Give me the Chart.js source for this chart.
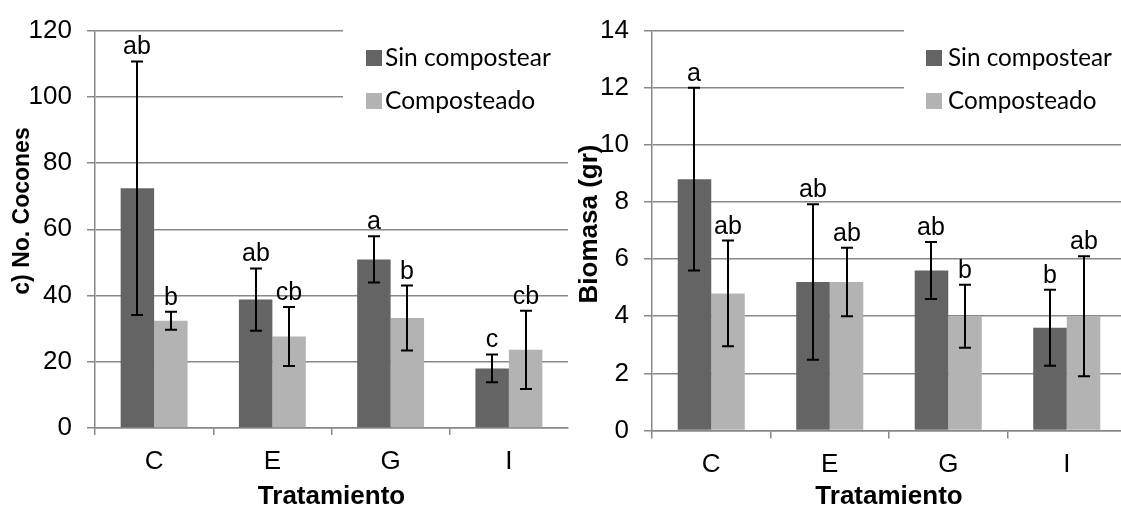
<!DOCTYPE html>
<html><head><meta charset="utf-8">
<script src="https://cdn.jsdelivr.net/npm/chart.js@4.4.1/dist/chart.umd.min.js"></script>
<style>
html,body{margin:0;padding:0;background:#fff;overflow:hidden;width:1121px;height:512px;}
#w1{position:absolute;left:0;top:0;width:575px;height:512px;}
#w2{position:absolute;left:575px;top:0;width:560px;height:512px;}
</style></head><body>
<div id="w1"><canvas id="c1"></canvas></div>
<div id="w2"><canvas id="c2"></canvas></div>
<script>
// ---- data ----
const categories = ['C', 'E', 'G', 'I'];
const seriesNames = ['Sin compostear', 'Composteado'];
const xTitle = 'Tratamiento';

const cocTitle = 'c) No. Cocones';
const cocSin = [72.4, 38.8, 50.9, 18.0];
const cocSinErr = [38.3, 9.4, 7.0, 4.2];
const cocComp = [32.4, 27.6, 33.2, 23.6];
const cocCompErr = [2.7, 8.9, 9.8, 11.8];
const cocSinLetters = ['ab', 'ab', 'a', 'c'];
const cocCompLetters = ['b', 'cb', 'b', 'cb'];
const cocTicks = [0, 20, 40, 60, 80, 100, 120];

const bioTitle = 'Biomasa (gr)';
const bioSin = [8.8, 5.2, 5.6, 3.6];
const bioSinErr = [3.2, 2.72, 1.0, 1.33];
const bioComp = [4.8, 5.2, 4.0, 4.0];
const bioCompErr = [1.85, 1.2, 1.1, 2.1];
const bioSinLetters = ['a', 'ab', 'ab', 'b'];
const bioCompLetters = ['ab', 'ab', 'b', 'ab'];
const bioTicks = [0, 2, 4, 6, 8, 10, 12, 14];

// ---- styles ----
const DARK = '#646464', LIGHT = '#b3b3b3', GRID = '#888888';
const FONT = '"Liberation Sans", Arial, sans-serif';
const LEGFONT = 'Lato, "Open Sans", sans-serif';

const annot = {
  id: 'annot',
  afterDatasetsDraw(chart, args, o) {
    const ctx = chart.ctx, y = chart.scales.y;
    chart.data.datasets.forEach((ds, di) => {
      const meta = chart.getDatasetMeta(di);
      meta.data.forEach((bar, i) => {
        const v = ds.data[i], e = o.errors[di][i];
        const yt = y.getPixelForValue(v + e), yb = y.getPixelForValue(v - e);
        const x = Math.round(bar.x);
        ctx.save();
        ctx.strokeStyle = '#000'; ctx.lineWidth = 2;
        ctx.beginPath();
        ctx.moveTo(x, yt); ctx.lineTo(x, yb);
        ctx.moveTo(x - 6, yt); ctx.lineTo(x + 6, yt);
        ctx.moveTo(x - 6, yb); ctx.lineTo(x + 6, yb);
        ctx.stroke();
        ctx.fillStyle = '#000';
        ctx.font = '25px ' + FONT;
        ctx.textAlign = 'center'; ctx.textBaseline = 'alphabetic';
        ctx.fillText(o.letters[di][i], x, yt - 7);
        ctx.restore();
      });
    });
  },
  afterDraw(chart, args, o) {
    const ctx = chart.ctx;
    const L = o.legend;
    ctx.save();
    ctx.fillStyle = '#fff';
    ctx.fillRect(L.x0, L.y0, L.x1 - L.x0, L.y1 - L.y0);
    ctx.font = '24px ' + LEGFONT;
    const w = ctx.measureText(seriesNames[0]).width;
    const fs = 24 * L.textW / w;
    ctx.font = fs.toFixed(2) + 'px ' + LEGFONT;
    ctx.textBaseline = 'alphabetic'; ctx.textAlign = 'left';
    chart.data.datasets.forEach((ds, di) => {
      const cy = L.rows[di];
      ctx.fillStyle = ds.backgroundColor;
      ctx.fillRect(L.sqX, cy - 8, 16, 16);
      ctx.fillStyle = '#000';
      ctx.fillText(ds.label, L.textX, cy + 8);
    });
    ctx.translate(o.yTitle.x, o.yTitle.y);
    ctx.rotate(-Math.PI / 2);
    ctx.font = 'bold ' + o.yTitle.size + 'px ' + FONT;
    ctx.textAlign = 'center'; ctx.textBaseline = 'middle';
    ctx.fillText(o.yTitle.text, 0, 0);
    ctx.restore();
  }
};

function build(id, c) {
  return new Chart(document.getElementById(id), {
    type: 'bar',
    data: {
      labels: categories,
      datasets: [
        { label: seriesNames[0], data: c.sin, backgroundColor: DARK, borderWidth: 0, categoryPercentage: 0.566, barPercentage: 1 },
        { label: seriesNames[1], data: c.comp, backgroundColor: LIGHT, borderWidth: 0, categoryPercentage: 0.566, barPercentage: 1 }
      ]
    },
    options: {
      responsive: true, maintainAspectRatio: false, animation: false,
      layout: { padding: { top: c.top, right: c.right, left: 0, bottom: 0 } },
      plugins: {
        legend: { display: false }, tooltip: { enabled: false }, title: { display: false },
        annot: { errors: c.errors, letters: c.letters, legend: c.legend, yTitle: c.yTitle }
      },
      scales: {
        x: {
          offset: true,
          grid: { offset: true, drawOnChartArea: false, drawTicks: true, tickLength: c.xTick,
                  color: (ctx) => ctx.type === 'scale' ? 'rgba(0,0,0,0)' : GRID, lineWidth: 1.5 },
          border: { color: GRID, width: 1.5 },
          ticks: { font: { family: FONT, size: 26 }, color: '#000', padding: c.xPad, maxRotation: 0 },
          title: { display: true, text: xTitle, font: { family: FONT, size: 26, weight: 'bold' }, color: '#000', padding: 0 },
          afterFit: (s) => { s.height = c.xH; }
        },
        y: {
          min: 0, max: c.ticks[c.ticks.length - 1],
          afterBuildTicks: (s) => { s.ticks = c.ticks.map(v => ({ value: v })); },
          ticks: { font: { family: FONT, size: 26 }, color: '#000', padding: 15 },
          grid: { color: GRID, lineWidth: 1.5, tickLength: 8 },
          border: { color: GRID, width: 1.5 },
          afterFit: (s) => { s.width = c.yW; }
        }
      }
    },
    plugins: [annot]
  });
}

build('c1', {
  sin: cocSin, comp: cocComp, errors: [cocSinErr, cocCompErr], letters: [cocSinLetters, cocCompLetters],
  ticks: cocTicks, top: 19.5, right: 7, yW: 95, xH: 84, xTick: 7, xPad: 11,
  legend: { x0: 343, x1: 568, y0: 28, y1: 146, sqX: 366, textX: 385, textW: 166, rows: [58, 101] },
  yTitle: { text: cocTitle, x: 22.5, y: 211, size: 23 }
});
build('c2', {
  sin: bioSin, comp: bioComp, errors: [bioSinErr, bioCompErr], letters: [bioSinLetters, bioCompLetters],
  ticks: bioTicks, top: 19, right: 9, yW: 77, xH: 81.5, xTick: 8, xPad: 11,
  legend: { x0: 329, x1: 560, y0: 26, y1: 130, sqX: 351, textX: 373, textW: 164, rows: [58, 101] },
  yTitle: { text: bioTitle, x: 15, y: 224, size: 26 }
});
</script>
</body></html>
